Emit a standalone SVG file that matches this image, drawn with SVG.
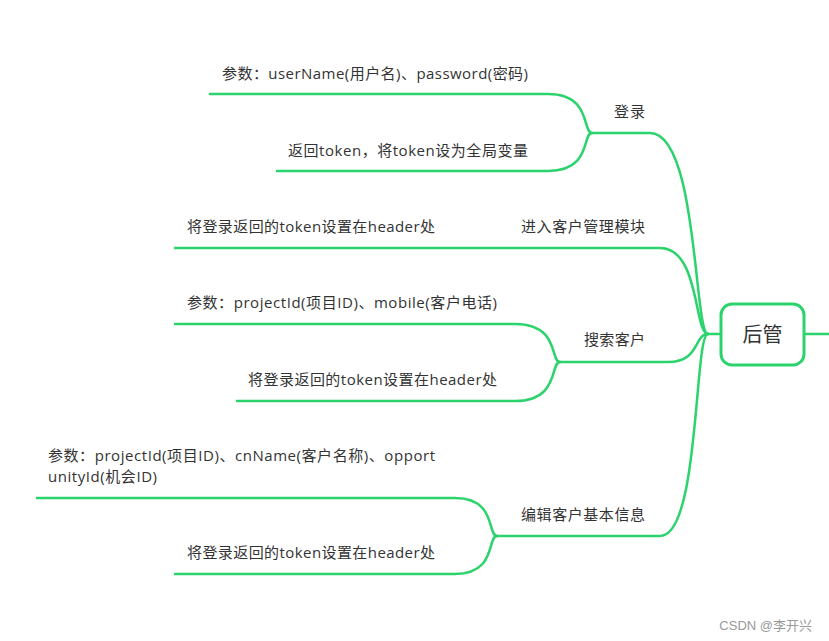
<svg xmlns="http://www.w3.org/2000/svg" width="829" height="641" viewBox="0 0 829 641">
<style>
.c{fill:none;stroke:#2ad36c;stroke-width:2.5;stroke-linecap:round}
.t{font-family:"Open Sans","Noto Sans CJK SC",sans-serif;font-size:15px;fill:#333}
</style>
<rect width="829" height="641" fill="#fff"/>
<g id="connectors">
<path class="c" d="M720,334 H708"/>
<path class="c" d="M805,334 H829"/>
<path class="c" d="M708,334 C694,334 698,133 650,133 H592"/>
<path class="c" d="M708,334 C694,334 700,248 660,248 H175"/>
<path class="c" d="M708,334 C694,334 700,362 668,362 H560"/>
<path class="c" d="M708,334 C694,334 700,536 660,536 H497"/>
<path class="c" d="M592,133 C582,133 592,94 548,94 H210"/>
<path class="c" d="M592,133 C582,133 592,171 548,171 H277"/>
<path class="c" d="M560,362 C550,362 560,324 515,324 H175"/>
<path class="c" d="M560,362 C550,362 560,401 515,401 H237"/>
<path class="c" d="M497,536 C487,536 497,498 455,498 H37"/>
<path class="c" d="M497,536 C487,536 497,574 455,574 H175"/>
</g>
<g id="root">
<rect x="721" y="304" width="83" height="61" rx="11" fill="#fff" stroke="#2ad36c" stroke-width="3"/>
<text x="762.5" y="342" text-anchor="middle" font-family="Noto Sans CJK SC,sans-serif" font-size="20" fill="#333">后管</text>
</g>
<g id="login"><text class="t" x="614" y="117" textLength="31">登录</text></g>
<g id="login-param"><text class="t" x="222" y="79" textLength="306">参数：userName(用户名)、password(密码)</text></g>
<g id="login-return"><text class="t" x="288" y="156" textLength="240">返回token，将token设为全局变量</text></g>
<g id="enter"><text class="t" x="521" y="232" textLength="124">进入客户管理模块</text></g>
<g id="enter-token"><text class="t" x="187" y="232" textLength="248">将登录返回的token设置在header处</text></g>
<g id="search"><text class="t" x="584" y="345" textLength="61">搜索客户</text></g>
<g id="search-param"><text class="t" x="187" y="308" textLength="310">参数：projectId(项目ID)、mobile(客户电话)</text></g>
<g id="search-token"><text class="t" x="248" y="385" textLength="249">将登录返回的token设置在header处</text></g>
<g id="edit"><text class="t" x="521" y="520" textLength="124">编辑客户基本信息</text></g>
<g id="edit-param"><text class="t" x="48" y="461" textLength="387">参数：projectId(项目ID)、cnName(客户名称)、opport</text><text class="t" x="48" y="482" textLength="109">unityId(机会ID)</text></g>
<g id="edit-token"><text class="t" x="187" y="558" textLength="248">将登录返回的token设置在header处</text></g>
<text x="812" y="630" text-anchor="end" font-family="Liberation Sans,Noto Sans CJK SC,sans-serif" font-size="13" fill="#999">CSDN @李开兴</text>
</svg>
